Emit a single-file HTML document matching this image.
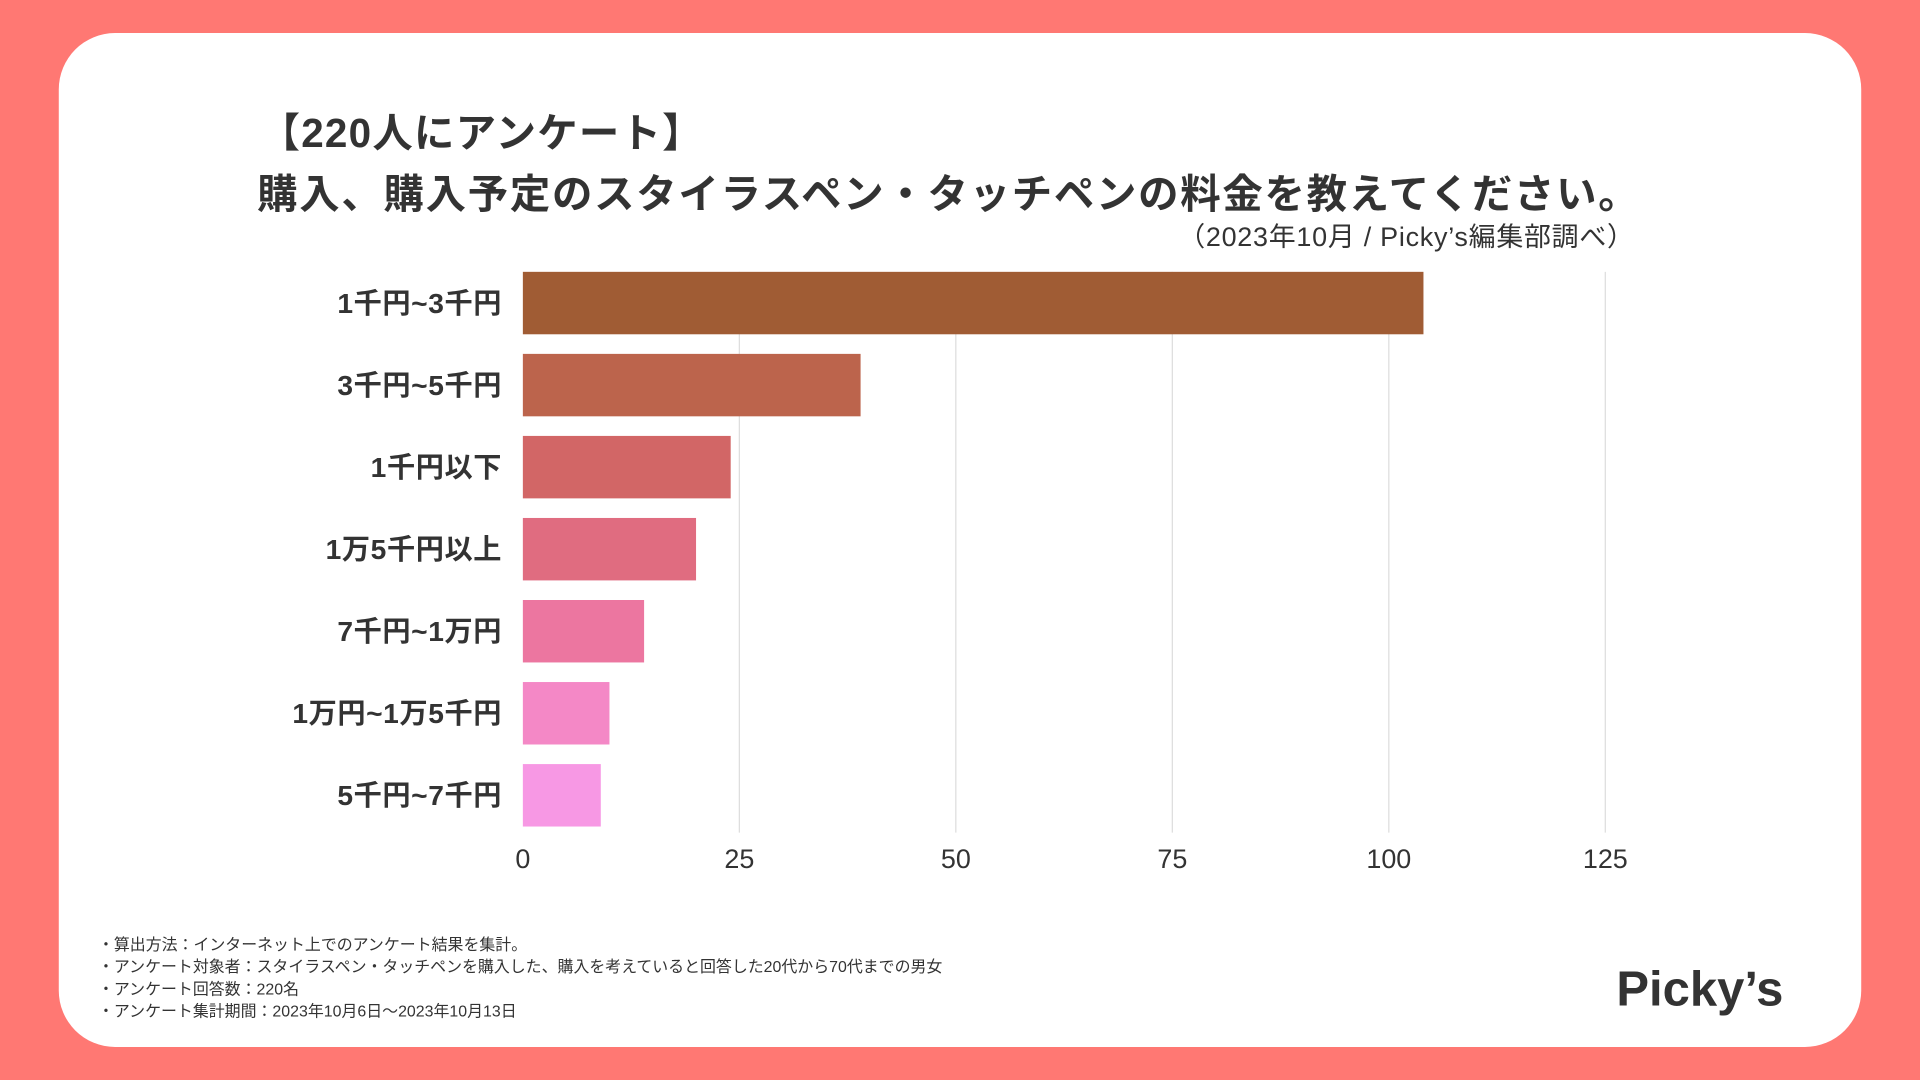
<!DOCTYPE html>
<html><head><meta charset="utf-8"><style>
html,body{margin:0;padding:0;width:1920px;height:1080px;overflow:hidden;background:#ff7873;}
#wrap{position:absolute;left:0;top:0;width:1568px;height:882px;transform:scale(1.22449);transform-origin:0 0;font-family:"Liberation Sans","Noto Sans CJK JP",sans-serif;color:#333;}
#card{position:absolute;left:48px;top:27px;width:1472px;height:828px;background:#fff;border-radius:46px;}
.t{position:absolute;white-space:nowrap;}
</style></head><body>
<div id="wrap">
<div id="card"></div>
<div class="t" style="left:212px;top:82px;font-size:33px;font-weight:bold;letter-spacing:1px;">【220人にアンケート】</div>
<div class="t" style="left:210px;top:132px;font-size:33px;font-weight:bold;letter-spacing:1.4px;">購入、購入予定のスタイラスペン・タッチペンの料金を教えてください。</div>
<div class="t" style="right:233px;top:176px;font-size:22px;letter-spacing:0.6px;">（2023年10月 / Picky’s編集部調べ）</div>
<svg id="chart" width="1568" height="882" style="position:absolute;left:0;top:0"></svg>
<div class="t" style="left:80px;top:763px;font-size:13px;line-height:18px;">・算出方法：インターネット上でのアンケート結果を集計。<br>・アンケート対象者：スタイラスペン・タッチペンを購入した、購入を考えていると回答した20代から70代までの男女<br>・アンケート回答数：220名<br>・アンケート集計期間：2023年10月6日〜2023年10月13日</div>
<div class="t" style="left:1320px;top:786px;font-size:40px;font-weight:bold;color:#333;">Picky’s</div>
</div>
<script>
const categories=["1千円~3千円","3千円~5千円","1千円以下","1万5千円以上","7千円~1万円","1万円~1万5千円","5千円~7千円"];
const values=[104,39,24,20,14,10,9];
const ticks=[0,25,50,75,100,125];
const colors=["#a05c34","#bc644c","#d26666","#e06c80","#ec76a0","#f488c6","#f798e4"];
const NS="http://www.w3.org/2000/svg";
const svg=document.getElementById('chart');
const x0=427,x1=1311,maxV=125,top0=222,pitch=67,bh=51;
const xs=v=>x0+(x1-x0)*v/maxV;
function mk(t,a){const e=document.createElementNS(NS,t);for(const k in a)e.setAttribute(k,a[k]);svg.appendChild(e);return e;}
ticks.forEach(t=>{
 if(t>0){const l=mk('line',{x1:xs(t),x2:xs(t),y1:top0,y2:680,stroke:'#dddddd','stroke-width':1});
 
 }
 const tx=mk('text',{x:xs(t),y:709,'text-anchor':'middle','font-size':22,fill:'#333'});
 
 
 tx.textContent=t;
});
categories.forEach((c,i)=>{
 const y=top0+i*pitch;
 const r=mk('rect',{x:x0,y:y,width:xs(values[i])-x0,height:bh,fill:colors[i]});
 
 
 const tx=mk('text',{x:410,y:y+bh/2+8,'text-anchor':'end','font-size':23,'font-weight':'bold','letter-spacing':'0.5',fill:'#333'});
 
 
 tx.textContent=c;
});
</script>
</body></html>
